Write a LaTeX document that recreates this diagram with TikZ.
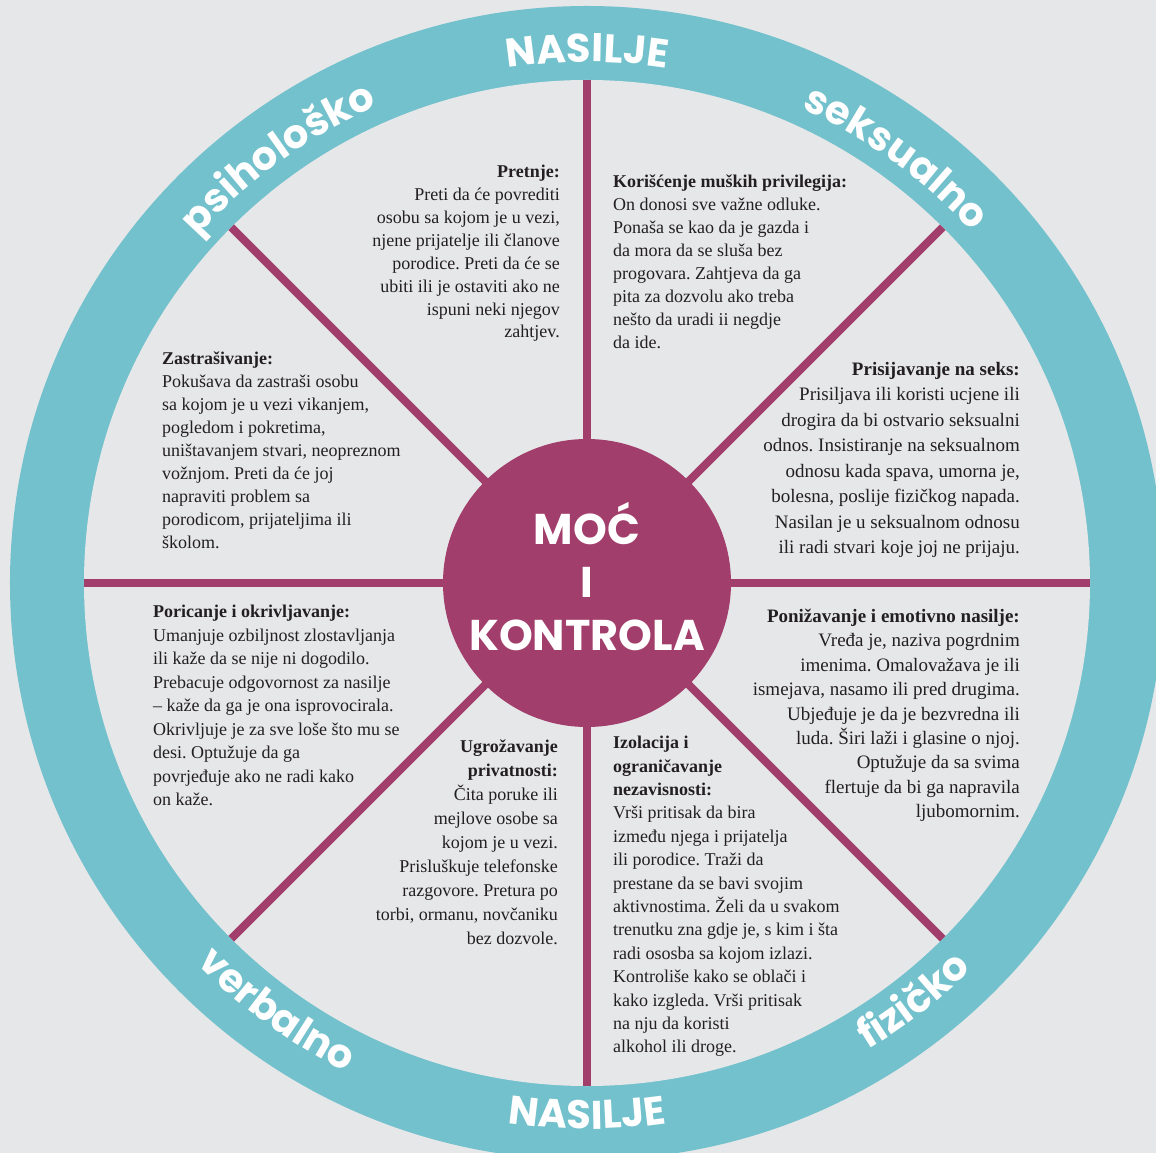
\documentclass[tikz,border=0pt]{standalone}
\usepackage{fontspec}
\setmainfont{Liberation Serif}
\newfontfamily\wheelfont{Poppins}
\usepackage{tikz}
\usetikzlibrary{decorations.text}
\frenchspacing

\definecolor{bgray}{HTML}{E6E7E9}
\definecolor{ringblue}{HTML}{73C1CC}
\definecolor{hubpurple}{HTML}{A23E6B}
\definecolor{ink}{HTML}{231F20}

\newcommand{\labelfont}{\wheelfont\bfseries\fontsize{40}{40}\selectfont}

\tikzset{
  spoke/.style={hubpurple, line width=8pt},
  blurb/.style={inner sep=0pt, text=ink, font=\fontsize{18}{#1}\selectfont},
  blurb/.default=23,
  bigblurb/.style={inner sep=0pt, text=ink, font=\fontsize{19}{#1}\selectfont},
  ringlabel/.style={decorate, decoration={text along path, text align=center,
    text color=white, text={|\labelfont|#1}}},
}

\begin{document}
\begin{tikzpicture}[x=1pt,y=1pt]
\useasboundingbox (-587,-570) rectangle (569,583);
\clip (-587,-570) rectangle (569,583);
\fill[bgray] (-587,-570) rectangle (569,583);
% ring
\fill[ringblue] (0,0) circle (577);
\fill[bgray] (0,0) circle (503);
% spokes
\foreach \a in {0,45,...,315}
  \draw[spoke] (0,0) -- (\a:503);
\node[circle, fill=hubpurple, minimum size=288pt, inner sep=0pt] (hub) at (0,0) {};
\node[text=white, align=center, font=\wheelfont\bfseries\fontsize{43}{53}\selectfont]
  (hubtitle) at (0,6) {MOĆ\\I\\KONTROLA};
% ring labels
\path[ringlabel=NASILJE] (150:521) arc[start angle=150, end angle=30, radius=521];
\path[ringlabel=psihološko] (171:521) arc[start angle=171, end angle=81, radius=521];
\path[ringlabel=seksualno] (99:521) arc[start angle=99, end angle=9, radius=521];
\path[ringlabel=verbalno] (189:545) arc[start angle=189, end angle=279, radius=545];
\path[ringlabel=NASILJE] (-135:546) arc[start angle=-135, end angle=-45, radius=546];
\path[ringlabel=fizičko] (-97:545) arc[start angle=-97, end angle=-7, radius=545];
% texts
\node[blurb=22.9, align=right, anchor=north east] (threats) at (-27,418)
  {\textbf{Pretnje:}\\
   Preti da će povrediti\\
   osobu sa kojom je u vezi,\\
   njene prijatelje ili članove\\
   porodice. Preti da će se\\
   ubiti ili je ostaviti ako ne\\
   ispuni neki njegov\\
   zahtjev.};
\node[blurb=23, align=left, anchor=north west] (privilege) at (26,408)
  {\textbf{Korišćenje muških privilegija:}\\
   On donosi sve važne odluke.\\
   Ponaša se kao da je gazda i\\
   da mora da se sluša bez\\
   progovara. Zahtjeva da ga\\
   pita za dozvolu ako treba\\
   nešto da uradi ii negdje\\
   da ide.};
\node[blurb=22.9, align=left, anchor=north west] (fear) at (-425,231)
  {\textbf{Zastrašivanje:}\\
   Pokušava da zastraši osobu\\
   sa kojom je u vezi vikanjem,\\
   pogledom i pokretima,\\
   uništavanjem stvari, neopreznom\\
   vožnjom. Preti da će joj\\
   napraviti problem sa\\
   porodicom, prijateljima ili\\
   školom.};
\node[bigblurb=25.5, align=right, anchor=north east] (sexforce) at (433,221)
  {\textbf{Prisijavanje na seks:}\\
   Prisiljava ili koristi ucjene ili\\
   drogira da bi ostvario seksualni\\
   odnos. Insistiranje na seksualnom\\
   odnosu kada spava, umorna je,\\
   bolesna, poslije fizičkog napada.\\
   Nasilan je u seksualnom odnosu\\
   ili radi stvari koje joj ne prijaju.};
\node[blurb=23.5, align=left, anchor=north west] (denial) at (-434,-22)
  {\textbf{Poricanje i okrivljavanje:}\\
   Umanjuje ozbiljnost zlostavljanja\\
   ili kaže da se nije ni dogodilo.\\
   Prebacuje odgovornost za nasilje\\
   – kaže da ga je ona isprovocirala.\\
   Okrivljuje je za sve loše što mu se\\
   desi. Optužuje da ga\\
   povrjeđuje ako ne radi kako\\
   on kaže.};
\node[bigblurb=24.4, align=right, anchor=north east] (insult) at (433,-26)
  {\textbf{Ponižavanje i emotivno nasilje:}\\
   Vređa je, naziva pogrdnim\\
   imenima. Omalovažava je ili\\
   ismejava, nasamo ili pred drugima.\\
   Ubjeđuje je da je bezvredna ili\\
   luda. Širi laži i glasine o njoj.\\
   Optužuje da sa svima\\
   flertuje da bi ga napravila\\
   ljubomornim.};
\node[blurb=24, align=right, anchor=north east] (privacy) at (-29,-157)
  {\textbf{Ugrožavanje}\\
   \textbf{privatnosti:}\\
   Čita poruke ili\\
   mejlove osobe sa\\
   kojom je u vezi.\\
   Prisluškuje telefonske\\
   razgovore. Pretura po\\
   torbi, ormanu, novčaniku\\
   bez dozvole.};
\node[blurb=23.4, align=left, anchor=north west] (isolation) at (26,-153)
  {\textbf{Izolacija i}\\
   \textbf{ograničavanje}\\
   \textbf{nezavisnosti:}\\
   Vrši pritisak da bira\\
   između njega i prijatelja\\
   ili porodice. Traži da\\
   prestane da se bavi svojim\\
   aktivnostima. Želi da u svakom\\
   trenutku zna gdje je, s kim i šta\\
   radi ososba sa kojom izlazi.\\
   Kontroliše kako se oblači i\\
   kako izgleda. Vrši pritisak\\
   na nju da koristi\\
   alkohol ili droge.};
\end{tikzpicture}
\end{document}
